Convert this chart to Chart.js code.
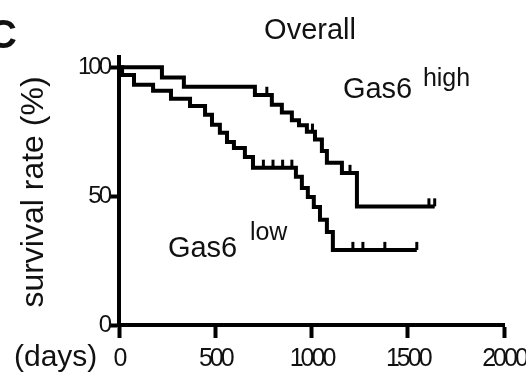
<!DOCTYPE html>
<html><head><meta charset="utf-8">
<script src="https://cdn.jsdelivr.net/npm/chart.js@4/dist/chart.umd.min.js"></script>
<style>html,body{margin:0;padding:0;background:#fff}#wrap{width:526px;height:377px;position:relative}</style>
</head><body><div id="wrap"><canvas id="c" width="526" height="377"></canvas></div>
<script>
// Kaplan-Meier steps (day of event, survival % after event)
const highDays = [0, 223, 337, 706, 794, 846, 898, 935, 976, 1018, 1054, 1080, 1158, 1236, 1640];
const highSurv = [100, 96, 92.5, 89.3, 85.5, 82.5, 79.5, 77.5, 75, 72, 67.5, 63, 59, 46, 46];
const lowDays = [0, 16, 78, 177, 270, 369, 447, 483, 524, 561, 597, 654, 696, 919, 950, 981, 1012, 1044, 1080, 1111, 1547];
const lowSurv = [100, 97, 93.2, 90.9, 87.8, 85, 81.6, 77.7, 74.6, 71, 68.7, 65.2, 61, 57.5, 53.2, 49.7, 45.8, 40.8, 36.1, 29.1, 29.1];
// censored observations (days)
const highCensorDays = [768, 1005, 1200, 1610, 1640];
const lowCensorDays = [750, 800, 850, 898, 1215, 1267, 1381, 1547];
// axis ticks
const xTicks = [0, 500, 1000, 1500, 2000];
const yTicks = [0, 50, 100];

const SANS = '"Liberation Sans", Arial, sans-serif';

function survAt(days, surv, d) {
  let v = surv[0];
  for (let i = 0; i < days.length; i++) { if (days[i] <= d) v = surv[i]; }
  return v;
}
const toPts = (days, surv) => days.map((d, i) => ({x: d, y: surv[i]}));
const censorPts = (cd, days, surv) => cd.map(d => ({x: d, y: survAt(days, surv, d) + 1.6}));

// condensed look for tick labels (reference uses a narrow face)
const narrowTicks = {
  id: 'narrowTicks',
  beforeDraw(chart) { chart.ctx.letterSpacing = '-3px'; },
  beforeDatasetsDraw(chart) { chart.ctx.letterSpacing = '0px'; }
};

const textPlugin = {
  id: 'texts',
  afterDraw(chart) {
    const ctx = chart.ctx, xs = chart.scales.x, ys = chart.scales.y, ca = chart.chartArea;
    ctx.save();
    ctx.letterSpacing = '0px';
    ctx.fillStyle = '#111';
    ctx.textBaseline = 'alphabetic';
    ctx.textAlign = 'left';
    ctx.font = 'bold 40px ' + SANS;
    ctx.fillText('C', -12, 48);
    ctx.font = '29px ' + SANS;
    ctx.textAlign = 'center';
    ctx.fillText('Overall', 310, 39);
    ctx.textAlign = 'left';
    // Gas6 high label
    let gx = xs.getPixelForValue(1163), gy = ys.getPixelForValue(88.2);
    ctx.font = '29px ' + SANS;
    ctx.fillText('Gas6', gx, gy);
    ctx.font = '25px ' + SANS;
    ctx.fillText('high', gx + 80, gy - 12);
    // Gas6 low label
    gx = xs.getPixelForValue(254); gy = ys.getPixelForValue(26.4);
    ctx.font = '29px ' + SANS;
    ctx.fillText('Gas6', gx, gy);
    ctx.font = '25px ' + SANS;
    ctx.fillText('low', gx + 82, gy - 17);
    // (days)
    ctx.font = '30px ' + SANS;
    ctx.fillText('(days)', 14, 366);
    // y axis title
    ctx.save();
    ctx.translate(34, (ca.top + ca.bottom) / 2 + 1);
    ctx.rotate(-Math.PI / 2);
    ctx.textAlign = 'center';
    ctx.textBaseline = 'middle';
    ctx.font = '32px ' + SANS;
    ctx.fillText('survival rate (%)', 0, 0);
    ctx.restore();
    ctx.restore();
  }
};

new Chart(document.getElementById('c'), {
  type: 'line',
  data: {
    datasets: [
      {label: 'Gas6 high', data: toPts(highDays, highSurv), stepped: 'before', borderColor: '#000', borderWidth: 4, pointRadius: 0, fill: false, borderJoinStyle: 'miter'},
      {label: 'Gas6 low', data: toPts(lowDays, lowSurv), stepped: 'before', borderColor: '#000', borderWidth: 4, pointRadius: 0, fill: false, borderJoinStyle: 'miter'},
      {label: 'censored high', data: censorPts(highCensorDays, highDays, highSurv), showLine: false, pointStyle: 'line', rotation: 90, pointRadius: 4, borderColor: '#000', backgroundColor: '#000', pointBorderWidth: 3},
      {label: 'censored low', data: censorPts(lowCensorDays, lowDays, lowSurv), showLine: false, pointStyle: 'line', rotation: 90, pointRadius: 4, borderColor: '#000', backgroundColor: '#000', pointBorderWidth: 3}
    ]
  },
  options: {
    responsive: false,
    animation: false,
    devicePixelRatio: 1,
    layout: {padding: {top: 57, right: 22, bottom: 0, left: 0}},
    plugins: {legend: {display: false}, tooltip: {enabled: false}, title: {display: false}},
    scales: {
      x: {
        type: 'linear', min: 0, max: 2000,
        afterBuildTicks: s => { s.ticks = xTicks.map(v => ({value: v})); },
        afterFit: s => { s.height = 52; s.paddingLeft = 0; s.paddingRight = 0; },
        grid: {drawOnChartArea: false, drawTicks: true, tickLength: 13, tickWidth: 4, color: '#000'},
        border: {display: true, width: 4, color: '#000'},
        ticks: {color: '#111', font: {family: SANS, size: 25}, padding: 6, maxRotation: 0, callback: v => String(v)}
      },
      y: {
        type: 'linear', min: 0, max: 104,
        afterBuildTicks: s => { s.ticks = yTicks.map(v => ({value: v})); },
        afterFit: s => { s.width = 119; s.paddingTop = 0; s.paddingBottom = 0; },
        grid: {drawOnChartArea: false, drawTicks: true, tickLength: 10, tickWidth: 4, color: '#000'},
        border: {display: true, width: 4, color: '#000'},
        ticks: {color: '#111', font: {family: SANS, size: 24}, padding: 0, callback: v => String(v)}
      }
    }
  },
  plugins: [narrowTicks, textPlugin]
});
</script>
</body></html>
